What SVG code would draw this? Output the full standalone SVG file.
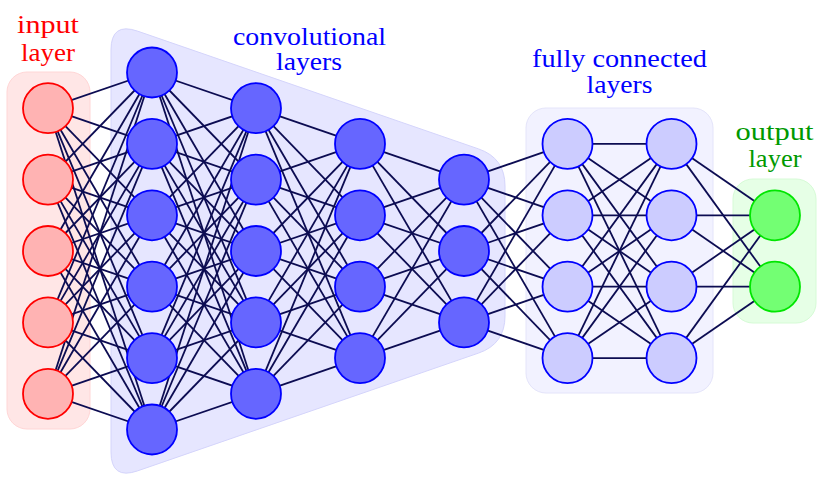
<svg xmlns="http://www.w3.org/2000/svg" width="830" height="487" viewBox="0 0 830 487">
<style>
.c{stroke:#0c0c52;stroke-width:1.8;fill:none}
.n{stroke-width:1.8}
.in{fill:#ffb3b3;stroke:#ff0000}
.cv{fill:#6666ff;stroke:#0000ff}
.fc{fill:#ccccff;stroke:#0000ff}
.out{fill:#73ff73;stroke:#00e600}
.t{font-family:"Liberation Serif","Times New Roman",serif;font-size:25px;text-anchor:middle}
</style>
<rect width="830" height="487" fill="#ffffff"/>
<g id="backgrounds">
<rect x="7" y="72" width="83" height="357" rx="20" fill="#ffe6e6" stroke="#ffd6d6" stroke-width="1"/>
<path d="M111 50Q111 22 137.5 31.1L478.5 148.9Q505 158 505 186L505 316Q505 344 478.5 353.1L137.5 470.9Q111 480 111 452Z" fill="#e6e6ff" stroke="#d4d4fb" stroke-width="1"/>
<rect x="526" y="108" width="187" height="285" rx="20" fill="#f2f2ff" stroke="#e4e4fa" stroke-width="1"/>
<rect x="733" y="179" width="83" height="144" rx="20" fill="#e6ffe6" stroke="#d6fbd6" stroke-width="1"/>
</g>
<g id="labels">
<text class="t" fill="#ff0000" x="48" y="33" textLength="62" lengthAdjust="spacingAndGlyphs">input</text>
<text class="t" fill="#ff0000" x="48" y="61" textLength="54" lengthAdjust="spacingAndGlyphs">layer</text>
<text class="t" fill="#0000ff" x="309.5" y="45" textLength="153" lengthAdjust="spacingAndGlyphs">convolutional</text>
<text class="t" fill="#0000ff" x="309" y="70" textLength="66" lengthAdjust="spacingAndGlyphs">layers</text>
<text class="t" fill="#0000ff" x="619.5" y="67" textLength="175" lengthAdjust="spacingAndGlyphs">fully connected</text>
<text class="t" fill="#0000ff" x="619.5" y="93" textLength="66" lengthAdjust="spacingAndGlyphs">layers</text>
<text class="t" fill="#009900" x="774.5" y="140" textLength="78" lengthAdjust="spacingAndGlyphs">output</text>
<text class="t" fill="#009900" x="775" y="167" textLength="53" lengthAdjust="spacingAndGlyphs">layer</text>
</g>
<g id="connectors" class="c">
<line x1="48" y1="108.2" x2="152" y2="72.5"/><line x1="48" y1="108.2" x2="152" y2="143.9"/><line x1="48" y1="108.2" x2="152" y2="215.3"/><line x1="48" y1="108.2" x2="152" y2="286.7"/><line x1="48" y1="108.2" x2="152" y2="358.1"/><line x1="48" y1="108.2" x2="152" y2="429.5"/>
<line x1="48" y1="179.6" x2="152" y2="72.5"/><line x1="48" y1="179.6" x2="152" y2="143.9"/><line x1="48" y1="179.6" x2="152" y2="215.3"/><line x1="48" y1="179.6" x2="152" y2="286.7"/><line x1="48" y1="179.6" x2="152" y2="358.1"/><line x1="48" y1="179.6" x2="152" y2="429.5"/>
<line x1="48" y1="251" x2="152" y2="72.5"/><line x1="48" y1="251" x2="152" y2="143.9"/><line x1="48" y1="251" x2="152" y2="215.3"/><line x1="48" y1="251" x2="152" y2="286.7"/><line x1="48" y1="251" x2="152" y2="358.1"/><line x1="48" y1="251" x2="152" y2="429.5"/>
<line x1="48" y1="322.4" x2="152" y2="72.5"/><line x1="48" y1="322.4" x2="152" y2="143.9"/><line x1="48" y1="322.4" x2="152" y2="215.3"/><line x1="48" y1="322.4" x2="152" y2="286.7"/><line x1="48" y1="322.4" x2="152" y2="358.1"/><line x1="48" y1="322.4" x2="152" y2="429.5"/>
<line x1="48" y1="393.8" x2="152" y2="72.5"/><line x1="48" y1="393.8" x2="152" y2="143.9"/><line x1="48" y1="393.8" x2="152" y2="215.3"/><line x1="48" y1="393.8" x2="152" y2="286.7"/><line x1="48" y1="393.8" x2="152" y2="358.1"/><line x1="48" y1="393.8" x2="152" y2="429.5"/>
<line x1="152" y1="72.5" x2="256" y2="108.2"/><line x1="152" y1="72.5" x2="256" y2="179.6"/><line x1="152" y1="72.5" x2="256" y2="251"/><line x1="152" y1="72.5" x2="256" y2="322.4"/><line x1="152" y1="72.5" x2="256" y2="393.8"/>
<line x1="152" y1="143.9" x2="256" y2="108.2"/><line x1="152" y1="143.9" x2="256" y2="179.6"/><line x1="152" y1="143.9" x2="256" y2="251"/><line x1="152" y1="143.9" x2="256" y2="322.4"/><line x1="152" y1="143.9" x2="256" y2="393.8"/>
<line x1="152" y1="215.3" x2="256" y2="108.2"/><line x1="152" y1="215.3" x2="256" y2="179.6"/><line x1="152" y1="215.3" x2="256" y2="251"/><line x1="152" y1="215.3" x2="256" y2="322.4"/><line x1="152" y1="215.3" x2="256" y2="393.8"/>
<line x1="152" y1="286.7" x2="256" y2="108.2"/><line x1="152" y1="286.7" x2="256" y2="179.6"/><line x1="152" y1="286.7" x2="256" y2="251"/><line x1="152" y1="286.7" x2="256" y2="322.4"/><line x1="152" y1="286.7" x2="256" y2="393.8"/>
<line x1="152" y1="358.1" x2="256" y2="108.2"/><line x1="152" y1="358.1" x2="256" y2="179.6"/><line x1="152" y1="358.1" x2="256" y2="251"/><line x1="152" y1="358.1" x2="256" y2="322.4"/><line x1="152" y1="358.1" x2="256" y2="393.8"/>
<line x1="152" y1="429.5" x2="256" y2="108.2"/><line x1="152" y1="429.5" x2="256" y2="179.6"/><line x1="152" y1="429.5" x2="256" y2="251"/><line x1="152" y1="429.5" x2="256" y2="322.4"/><line x1="152" y1="429.5" x2="256" y2="393.8"/>
<line x1="256" y1="108.2" x2="360" y2="143.9"/><line x1="256" y1="108.2" x2="360" y2="215.3"/><line x1="256" y1="108.2" x2="360" y2="286.7"/><line x1="256" y1="108.2" x2="360" y2="358.1"/>
<line x1="256" y1="179.6" x2="360" y2="143.9"/><line x1="256" y1="179.6" x2="360" y2="215.3"/><line x1="256" y1="179.6" x2="360" y2="286.7"/><line x1="256" y1="179.6" x2="360" y2="358.1"/>
<line x1="256" y1="251" x2="360" y2="143.9"/><line x1="256" y1="251" x2="360" y2="215.3"/><line x1="256" y1="251" x2="360" y2="286.7"/><line x1="256" y1="251" x2="360" y2="358.1"/>
<line x1="256" y1="322.4" x2="360" y2="143.9"/><line x1="256" y1="322.4" x2="360" y2="215.3"/><line x1="256" y1="322.4" x2="360" y2="286.7"/><line x1="256" y1="322.4" x2="360" y2="358.1"/>
<line x1="256" y1="393.8" x2="360" y2="143.9"/><line x1="256" y1="393.8" x2="360" y2="215.3"/><line x1="256" y1="393.8" x2="360" y2="286.7"/><line x1="256" y1="393.8" x2="360" y2="358.1"/>
<line x1="360" y1="143.9" x2="464" y2="179.6"/><line x1="360" y1="143.9" x2="464" y2="251"/><line x1="360" y1="143.9" x2="464" y2="322.4"/>
<line x1="360" y1="215.3" x2="464" y2="179.6"/><line x1="360" y1="215.3" x2="464" y2="251"/><line x1="360" y1="215.3" x2="464" y2="322.4"/>
<line x1="360" y1="286.7" x2="464" y2="179.6"/><line x1="360" y1="286.7" x2="464" y2="251"/><line x1="360" y1="286.7" x2="464" y2="322.4"/>
<line x1="360" y1="358.1" x2="464" y2="179.6"/><line x1="360" y1="358.1" x2="464" y2="251"/><line x1="360" y1="358.1" x2="464" y2="322.4"/>
<line x1="464" y1="179.6" x2="567.5" y2="143.9"/><line x1="464" y1="179.6" x2="567.5" y2="215.3"/><line x1="464" y1="179.6" x2="567.5" y2="286.7"/><line x1="464" y1="179.6" x2="567.5" y2="358.1"/>
<line x1="464" y1="251" x2="567.5" y2="143.9"/><line x1="464" y1="251" x2="567.5" y2="215.3"/><line x1="464" y1="251" x2="567.5" y2="286.7"/><line x1="464" y1="251" x2="567.5" y2="358.1"/>
<line x1="464" y1="322.4" x2="567.5" y2="143.9"/><line x1="464" y1="322.4" x2="567.5" y2="215.3"/><line x1="464" y1="322.4" x2="567.5" y2="286.7"/><line x1="464" y1="322.4" x2="567.5" y2="358.1"/>
<line x1="567.5" y1="143.9" x2="671.5" y2="143.9"/><line x1="567.5" y1="143.9" x2="671.5" y2="215.3"/><line x1="567.5" y1="143.9" x2="671.5" y2="286.7"/><line x1="567.5" y1="143.9" x2="671.5" y2="358.1"/>
<line x1="567.5" y1="215.3" x2="671.5" y2="143.9"/><line x1="567.5" y1="215.3" x2="671.5" y2="215.3"/><line x1="567.5" y1="215.3" x2="671.5" y2="286.7"/><line x1="567.5" y1="215.3" x2="671.5" y2="358.1"/>
<line x1="567.5" y1="286.7" x2="671.5" y2="143.9"/><line x1="567.5" y1="286.7" x2="671.5" y2="215.3"/><line x1="567.5" y1="286.7" x2="671.5" y2="286.7"/><line x1="567.5" y1="286.7" x2="671.5" y2="358.1"/>
<line x1="567.5" y1="358.1" x2="671.5" y2="143.9"/><line x1="567.5" y1="358.1" x2="671.5" y2="215.3"/><line x1="567.5" y1="358.1" x2="671.5" y2="286.7"/><line x1="567.5" y1="358.1" x2="671.5" y2="358.1"/>
<line x1="671.5" y1="143.9" x2="775" y2="215.3"/><line x1="671.5" y1="143.9" x2="775" y2="286.7"/>
<line x1="671.5" y1="215.3" x2="775" y2="215.3"/><line x1="671.5" y1="215.3" x2="775" y2="286.7"/>
<line x1="671.5" y1="286.7" x2="775" y2="215.3"/><line x1="671.5" y1="286.7" x2="775" y2="286.7"/>
<line x1="671.5" y1="358.1" x2="775" y2="215.3"/><line x1="671.5" y1="358.1" x2="775" y2="286.7"/>
</g>
<g id="input-1"><circle class="n in" cx="48" cy="108.2" r="25"/></g>
<g id="input-2"><circle class="n in" cx="48" cy="179.6" r="25"/></g>
<g id="input-3"><circle class="n in" cx="48" cy="251" r="25"/></g>
<g id="input-4"><circle class="n in" cx="48" cy="322.4" r="25"/></g>
<g id="input-5"><circle class="n in" cx="48" cy="393.8" r="25"/></g>
<g id="conv1-1"><circle class="n cv" cx="152" cy="72.5" r="25"/></g>
<g id="conv1-2"><circle class="n cv" cx="152" cy="143.9" r="25"/></g>
<g id="conv1-3"><circle class="n cv" cx="152" cy="215.3" r="25"/></g>
<g id="conv1-4"><circle class="n cv" cx="152" cy="286.7" r="25"/></g>
<g id="conv1-5"><circle class="n cv" cx="152" cy="358.1" r="25"/></g>
<g id="conv1-6"><circle class="n cv" cx="152" cy="429.5" r="25"/></g>
<g id="conv2-1"><circle class="n cv" cx="256" cy="108.2" r="25"/></g>
<g id="conv2-2"><circle class="n cv" cx="256" cy="179.6" r="25"/></g>
<g id="conv2-3"><circle class="n cv" cx="256" cy="251" r="25"/></g>
<g id="conv2-4"><circle class="n cv" cx="256" cy="322.4" r="25"/></g>
<g id="conv2-5"><circle class="n cv" cx="256" cy="393.8" r="25"/></g>
<g id="conv3-1"><circle class="n cv" cx="360" cy="143.9" r="25"/></g>
<g id="conv3-2"><circle class="n cv" cx="360" cy="215.3" r="25"/></g>
<g id="conv3-3"><circle class="n cv" cx="360" cy="286.7" r="25"/></g>
<g id="conv3-4"><circle class="n cv" cx="360" cy="358.1" r="25"/></g>
<g id="conv4-1"><circle class="n cv" cx="464" cy="179.6" r="25"/></g>
<g id="conv4-2"><circle class="n cv" cx="464" cy="251" r="25"/></g>
<g id="conv4-3"><circle class="n cv" cx="464" cy="322.4" r="25"/></g>
<g id="fc1-1"><circle class="n fc" cx="567.5" cy="143.9" r="25"/></g>
<g id="fc1-2"><circle class="n fc" cx="567.5" cy="215.3" r="25"/></g>
<g id="fc1-3"><circle class="n fc" cx="567.5" cy="286.7" r="25"/></g>
<g id="fc1-4"><circle class="n fc" cx="567.5" cy="358.1" r="25"/></g>
<g id="fc2-1"><circle class="n fc" cx="671.5" cy="143.9" r="25"/></g>
<g id="fc2-2"><circle class="n fc" cx="671.5" cy="215.3" r="25"/></g>
<g id="fc2-3"><circle class="n fc" cx="671.5" cy="286.7" r="25"/></g>
<g id="fc2-4"><circle class="n fc" cx="671.5" cy="358.1" r="25"/></g>
<g id="output-1"><circle class="n out" cx="775" cy="215.3" r="25"/></g>
<g id="output-2"><circle class="n out" cx="775" cy="286.7" r="25"/></g>
</svg>
